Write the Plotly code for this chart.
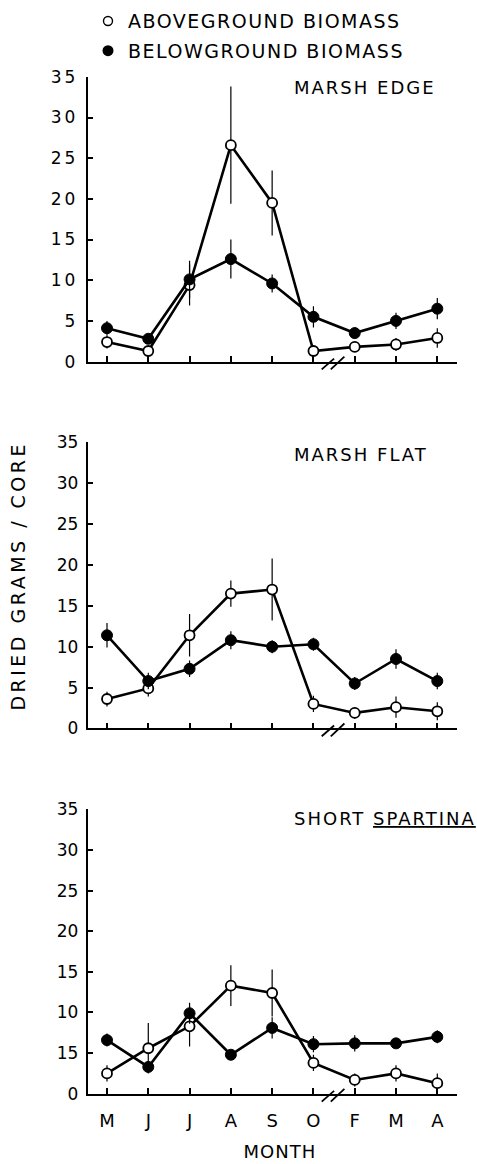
import plotly.graph_objects as go

W, H = 477, 1164

months = ["M", "J", "J", "A", "S", "O", "F", "M", "A"]
xpos = list(range(len(months)))
yticks = [0, 5, 10, 15, 20, 25, 30, 35]
ytext_std = ["0", "5", "10", "15", "20", "25", "30", "35"]
ytext_bottom = ["0", "15", "10", "15", "20", "25", "30", "35"]

panel_titles = ["MARSH EDGE", "MARSH FLAT", "SHORT <u>SPARTINA</u>"]
panel_title_chars = [10, 10, 14]

# Marsh edge
edge_above = [2.4, 1.3, 9.4, 26.6, 19.5, 1.3, 1.8, 2.1, 2.9]
edge_above_err = [0.8, 0.5, 2.5, 7.2, 4.0, 0.5, 0.5, 0.8, 1.2]
edge_below = [4.1, 2.8, 10.1, 12.6, 9.6, 5.5, 3.5, 5.0, 6.5]
edge_below_err = [0.9, 0.6, 2.3, 2.4, 1.1, 1.3, 0.7, 1.0, 1.3]

# Marsh flat
flat_above = [3.6, 4.9, 11.4, 16.5, 17.0, 3.0, 1.9, 2.6, 2.1]
flat_above_err = [0.9, 1.0, 2.6, 1.6, 3.8, 1.0, 0.7, 1.3, 1.1]
flat_below = [11.4, 5.8, 7.3, 10.8, 10.0, 10.3, 5.5, 8.5, 5.8]
flat_below_err = [1.5, 1.0, 1.0, 1.1, 0.8, 0.8, 0.8, 1.2, 1.0]

# Short Spartina
short_above = [2.5, 5.6, 8.3, 13.3, 12.4, 3.8, 1.7, 2.5, 1.3]
short_above_err = [1.0, 3.1, 2.5, 2.5, 2.9, 1.0, 0.8, 1.0, 1.2]
short_below = [6.6, 3.3, 9.9, 4.8, 8.1, 6.1, 6.2, 6.2, 7.0]
short_below_err = [0.8, 0.6, 1.3, 0.6, 1.3, 1.0, 1.0, 0.4, 0.8]

panels = [
    (edge_above, edge_above_err, edge_below, edge_below_err),
    (flat_above, flat_above_err, flat_below, flat_below_err),
    (short_above, short_above_err, short_below, short_below_err),
]

FONT = "DejaVu Sans"
TITLE_LS = 2.0

# pixel layout helpers (layout only)
def px(p):
    return p / W

def py(p):
    return 1 - p / H

x_left_px, x_right_px = 87.7, 457.0
panel_px = [(68.0, 357.7), (440.0, 731.0), (813.3, 1102.7)]  # (top=35, bottom=0)
xmin = 0 - (107.0 - x_left_px) / 41.29
xmax = 8 + (x_right_px - 437.3) / 41.29

fig = go.Figure()

for i, (ab, ab_e, be, be_e) in enumerate(panels):
    xa = "x" if i == 0 else f"x{i+1}"
    ya = "y" if i == 0 else f"y{i+1}"
    fig.add_trace(go.Scatter(
        x=xpos, y=ab, xaxis=xa, yaxis=ya, mode="lines+markers",
        name="ABOVEGROUND BIOMASS", showlegend=False, cliponaxis=False,
        line=dict(color="black", width=2.6),
        marker=dict(symbol="circle", size=10, color="white",
                    line=dict(color="black", width=1.8)),
        error_y=dict(type="data", array=ab_e, visible=True, width=0,
                     thickness=1.2, color="black"),
    ))
    fig.add_trace(go.Scatter(
        x=xpos, y=be, xaxis=xa, yaxis=ya, mode="lines+markers",
        name="BELOWGROUND BIOMASS", showlegend=False, cliponaxis=False,
        line=dict(color="black", width=2.6),
        marker=dict(symbol="circle", size=11, color="black",
                    line=dict(color="black", width=1)),
        error_y=dict(type="data", array=be_e, visible=True, width=0,
                     thickness=1.2, color="black"),
    ))

# legend-only marker traces
fig.add_trace(go.Scatter(x=[None], y=[None], mode="markers", name="ABOVEGROUND BIOMASS",
                         legendgroup="a",
                         marker=dict(symbol="circle", size=9, color="white",
                                     line=dict(color="black", width=1.4)),
                         showlegend=True))
fig.add_trace(go.Scatter(x=[None], y=[None], mode="markers", name="BELOWGROUND BIOMASS",
                         legendgroup="b",
                         marker=dict(symbol="circle", size=11, color="black",
                                     line=dict(color="black", width=0)),
                         showlegend=True))

layout = dict(
    width=W, height=H,
    margin=dict(l=0, r=0, t=0, b=0),
    paper_bgcolor="white", plot_bgcolor="white",
    font=dict(family=FONT, color="black", size=18),
    showlegend=True,
    legend=dict(x=px(88), y=1 + 8 / H, xanchor="left", yanchor="top",
                font=dict(family=FONT, size=19, color="black"),
                bgcolor="rgba(0,0,0,0)", borderwidth=0, tracegroupgap=2),
)

for i, (top, bot) in enumerate(panel_px):
    xk = "xaxis" if i == 0 else f"xaxis{i+1}"
    yk = "yaxis" if i == 0 else f"yaxis{i+1}"
    ya = "y" if i == 0 else f"y{i+1}"
    xa = "x" if i == 0 else f"x{i+1}"
    layout[xk] = dict(
        domain=[px(x_left_px), px(x_right_px)], anchor=ya, range=[xmin, xmax],
        tickmode="array", tickvals=xpos, ticktext=months,
        showticklabels=(i == 2), ticks="inside", ticklen=6, tickwidth=1.5,
        tickcolor="black", showline=True, linecolor="black", linewidth=1.8,
        showgrid=False, zeroline=False, ticklabelstandoff=10,
        tickfont=dict(family=FONT, size=18, color="black"),
    )
    layout[yk] = dict(
        domain=[py(bot), py(top)], anchor=xa, range=[0, 35],
        tickmode="array", tickvals=yticks,
        ticktext=(ytext_bottom if i == 2 else ytext_std),
        ticks="inside", ticklen=5, tickwidth=1.5, tickcolor="black",
        showline=True, linecolor="black", linewidth=1.8,
        showgrid=False, zeroline=False, ticklabelstandoff=4,
        tickfont=dict(family=FONT, size=17, color="black"),
    )

fig.update_layout(**layout)

# panel titles (index 0..2)
title_y = [79.0, 452.5, 823.0]
for i, t in enumerate(panel_titles):
    shift = panel_title_chars[i] * TITLE_LS / 2
    fig.add_annotation(text=t, xref="paper", yref="paper", x=px(292 + shift), y=py(title_y[i]),
                       xanchor="left", yanchor="middle", showarrow=False,
                       font=dict(family=FONT, size=18, color="black"))

# axis titles (index 3, 4)
fig.add_annotation(text="DRIED GRAMS / CORE", xref="paper", yref="paper",
                   x=px(18), y=py(576), textangle=-90, showarrow=False,
                   xanchor="center", yanchor="middle",
                   font=dict(family=FONT, size=19, color="black"))
fig.add_annotation(text="MONTH", xref="paper", yref="paper",
                   x=px(280), y=py(1161), showarrow=False,
                   xanchor="center", yanchor="middle",
                   font=dict(family=FONT, size=18, color="black"))

# axis break marks between O and F
def xdom(xd):
    return (xd - xmin) / (xmax - xmin)

for i, (top, bot) in enumerate(panel_px):
    hpx = bot - top
    xa = "x" if i == 0 else f"x{i+1}"
    ya = "y" if i == 0 else f"y{i+1}"
    for (x0, x1, y1) in [(5.2, 5.5, 3.0), (5.42, 5.75, 5.0)]:
        fig.add_shape(type="line", xref=f"{xa} domain", yref=f"{ya} domain",
                      x0=xdom(x0), x1=xdom(x1), y0=-8.0 / hpx, y1=y1 / hpx,
                      line=dict(color="black", width=1.8))

# lettering in the original is widely spaced; apply letter spacing to the SVG text
post = """
var gd = document.getElementById('{plot_id}');
function ls(sel, v) {
  gd.querySelectorAll(sel).forEach(function (t) { t.style.letterSpacing = v; });
}
gd.querySelectorAll('.legend [clip-path]').forEach(function (e) { e.removeAttribute('clip-path'); });
gd.querySelectorAll('.legend').forEach(function (e) { e.style.overflow = 'visible'; });
ls('.legendtext', '1.5px');
ls('.annotation[data-index="0"] text, .annotation[data-index="1"] text, .annotation[data-index="2"] text', '%spx');
ls('.annotation[data-index="3"] text', '3.5px');
ls('.annotation[data-index="4"] text', '1px');
ls('.ytick text', '3px');
""" % TITLE_LS

fig.write_html("out.html", post_script=post)
